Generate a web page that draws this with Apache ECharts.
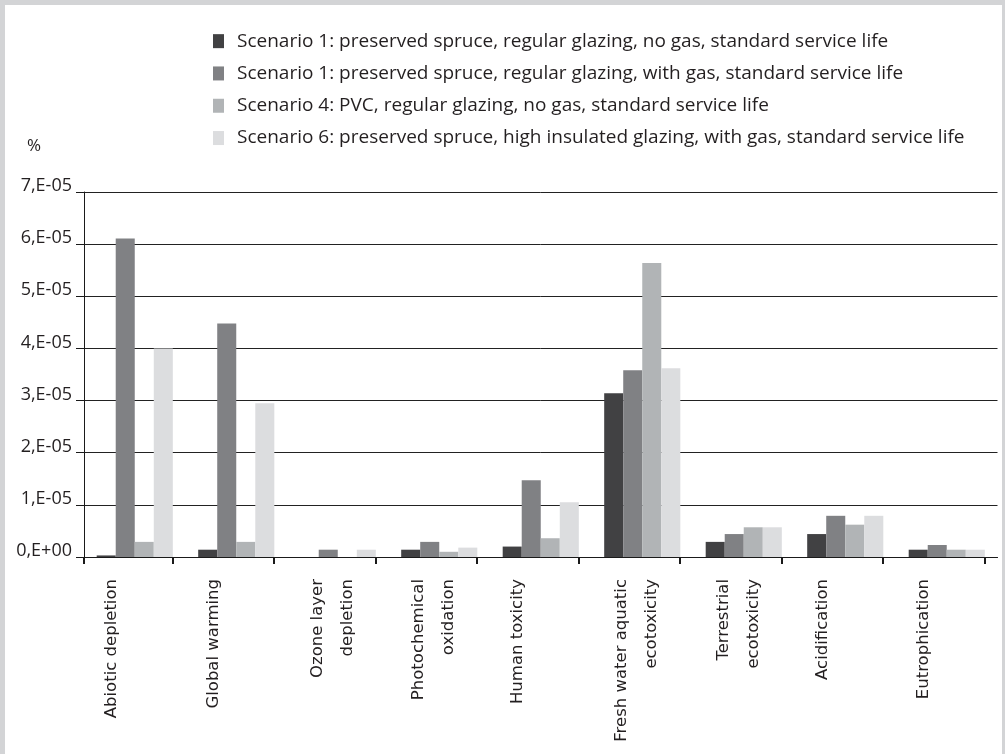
<!DOCTYPE html>
<html>
<head>
<meta charset="utf-8">
<script src="https://cdn.jsdelivr.net/npm/echarts@6/dist/echarts.min.js"></script>
<style>
    html, body { margin: 0; padding: 0; background: #d3d4d6; }
    #frame { width: 1005px; height: 754px; box-sizing: border-box; border-left: 5px solid #d3d4d6; border-top: 5px solid #d3d4d6; border-right: 3px solid #d3d4d6; }
    #chartDiv { width: 997px; height: 749px; background: #fff; }
</style>
</head>
<body>
<div id="frame"><div id="chartDiv"></div></div>
<script>
    // impact categories (x axis)
    var categories = ['Abiotic depletion', 'Global warming', 'Ozone layer\ndepletion', 'Photochemical\noxidation',
        'Human toxicity', 'Fresh water aquatic\necotoxicity', 'Terrestrial\necotoxicity', 'Acidification', 'Eutrophication'];
    var seriesNames = [
        'Scenario 1: preserved spruce, regular glazing, no gas, standard service life',
        'Scenario 1: preserved spruce, regular glazing, with gas, standard service life',
        'Scenario 4: PVC, regular glazing, no gas, standard service life',
        'Scenario 6: preserved spruce, high insulated glazing, with gas, standard service life'
    ];
    var s1NoGas   = [0.03e-5, 0.14e-5, 0, 0.14e-5, 0.20e-5, 3.14e-5, 0.29e-5, 0.44e-5, 0.14e-5];
    var s1WithGas = [6.11e-5, 4.48e-5, 0.14e-5, 0.29e-5, 1.47e-5, 3.58e-5, 0.44e-5, 0.79e-5, 0.23e-5];
    var s4Pvc     = [0.29e-5, 0.29e-5, 0, 0.10e-5, 0.36e-5, 5.64e-5, 0.57e-5, 0.62e-5, 0.14e-5];
    var s6HighIns = [4.00e-5, 2.95e-5, 0.14e-5, 0.18e-5, 1.05e-5, 3.62e-5, 0.57e-5, 0.79e-5, 0.14e-5];
    var colors = ['#414143', '#808184', '#b1b4b6', '#dcdddf'];

    var allValues = [s1NoGas, s1WithGas, s4Pvc, s6HighIns];
    var series = allValues.map(function (vals, i) {
        return {
            name: seriesNames[i],
            type: 'bar',
            barGap: 0,
            barCategoryGap: '25%',
            itemStyle: { color: colors[i] },
            data: vals
        };
    });

    // excel draws the category ticks at the right edge of each bar group
    var tickVals = [0];
    categories.forEach(function (c, i) { tickVals.push(i + 0.87); });

    var chart = echarts.init(document.getElementById('chartDiv'));
    chart.setOption({
        animation: false,
        color: colors,
        title: {
            text: '%', left: 17, top: 128,
            textStyle: { fontFamily: 'Open Sans', fontSize: 17, fontWeight: 'normal', color: '#231f20' }
        },
        legend: {
            orient: 'vertical', left: 203, top: 20,
            itemWidth: 11, itemHeight: 14, itemGap: 10,
            icon: 'rect',
            textStyle: { fontFamily: 'Open Sans', fontSize: 19, color: '#231f20', lineHeight: 22.3, padding: [0, 0, 0, 8] }
        },
        grid: { left: 79, top: 187, right: 4.5, bottom: 197 },
        xAxis: [{
            type: 'category',
            data: categories,
            axisLine: { lineStyle: { color: '#1a1a1a', width: 1 } },
            axisTick: { show: false },
            axisLabel: {
                interval: 0, rotate: 90, margin: 22,
                fontFamily: 'DejaVu Sans', fontSize: 16.5, color: '#231f20', lineHeight: 30,
                // excel sets the rotated labels a bit left of the group centre
                formatter: function (c) {
                    return c.indexOf('\n') < 0 ? c + '\n{padL| }' : c + '\n{padS| }';
                },
                rich: {
                    padL: { lineHeight: 46, fontSize: 1 },
                    padS: { lineHeight: 11, fontSize: 1 }
                }
            }
        }, {
            type: 'value',
            min: 0, max: categories.length,
            position: 'bottom',
            axisLine: { show: false },
            axisLabel: { show: false },
            splitLine: { show: false },
            axisTick: { show: true, length: 7, customValues: tickVals, lineStyle: { color: '#1a1a1a', width: 2 } }
        }],
        yAxis: {
            type: 'value',
            min: 0, max: 7e-5, interval: 1e-5,
            axisLine: { show: true, lineStyle: { color: '#1a1a1a', width: 1 } },
            axisTick: { show: true, length: 8, lineStyle: { color: '#1a1a1a' } },
            splitLine: { lineStyle: { color: '#222', width: 1 } },
            axisLabel: {
                margin: 12, verticalAlign: 'bottom', padding: [0, 0, -3, 0],
                fontFamily: 'Open Sans', fontSize: 18, color: '#231f20',
                formatter: function (v) {
                    return v === 0 ? '0,E+00' : Math.round(v * 1e5) + ',E-05';
                }
            }
        },
        series: series
    });
</script>
</body>
</html>
